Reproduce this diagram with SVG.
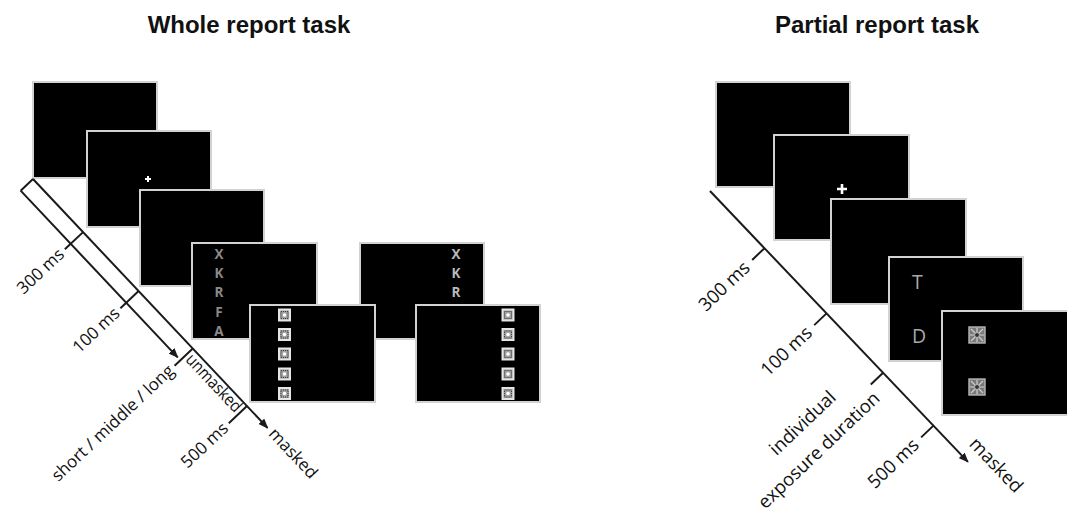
<svg xmlns="http://www.w3.org/2000/svg" width="1067" height="514" viewBox="0 0 1067 514">
  <style>
    .title { font-family: "Liberation Sans", Arial, sans-serif; font-weight: bold; font-size: 24px; fill: #111; }
    .scr { fill: #000; stroke: #d2d2d2; stroke-width: 2; }
    .tl { stroke: #1a1a1a; stroke-width: 2; fill: none; }
    .lbl { font-family: "Open Sans", "DejaVu Sans", sans-serif; font-size: 17px; fill: #111; }
    .lbl2 { font-family: "Open Sans", "DejaVu Sans", sans-serif; font-size: 18.5px; fill: #111; }
    .let { font-family: "Open Sans", "Liberation Sans", sans-serif; font-weight: bold; font-size: 13.5px; text-anchor: middle; }
    .cue { font-family: "Open Sans", "Liberation Sans", sans-serif; font-size: 19.5px; fill: #a8a8a8; }
    .fix { stroke: #fff; fill: none; }
  </style>
  <defs>
    <marker id="arr" viewBox="0 0 10 8" refX="9" refY="4" markerWidth="10" markerHeight="8" markerUnits="userSpaceOnUse" orient="auto">
      <path d="M0,0 L10,4 L0,8 z" fill="#1a1a1a"/>
    </marker>
    <!-- small dotted pattern mask -->
    <g id="maskA">
      <rect x="-6.5" y="-6.5" width="13" height="13" fill="#e6e6e6"/>
      <rect x="-4.5" y="-4.5" width="9" height="9" fill="#a0a0a0"/>
      <rect x="-3.5" y="-3.5" width="7" height="7" fill="none" stroke="#3c3c3c" stroke-width="1" stroke-dasharray="1 1"/>
      <circle r="1.8" fill="#fff"/>
    </g>
    <!-- radial pattern mask -->
    <g id="maskB">
      <rect x="-8" y="-8" width="16" height="16" fill="#7a7a7a" stroke="#b8b8b8" stroke-width="1.4"/>
      <path d="M-6,-6 L6,6 M6,-6 L-6,6 M0,-7 L0,7 M-7,0 L7,0" stroke="#d0d0d0" stroke-width="1.2"/>
      <circle r="2" fill="#333"/>
    </g>
  </defs>

  <rect width="1067" height="514" fill="#fff"/>

  <text class="title" x="249" y="33" text-anchor="middle">Whole report task</text>
  <text class="title" x="877" y="33" text-anchor="middle">Partial report task</text>

  <!-- whole report sequence -->
  <g id="w-blank"><rect class="scr" x="33" y="82" width="124" height="96"/></g>
  <g id="w-fixation">
    <rect class="scr" x="87" y="131" width="124" height="96"/>
    <path class="fix" stroke-width="2" d="M145,179 h6 M148,176 v6"/>
  </g>
  <g id="w-blank2"><rect class="scr" x="140" y="190" width="124" height="96"/></g>
  <g id="w-letters-left">
    <rect class="scr" x="192" y="243" width="125" height="96"/>
    <g class="let" fill="#8a8a8a">
      <text x="219" y="258.5">X</text>
      <text x="219" y="277.5">K</text>
      <text x="219" y="297">R</text>
      <text x="219" y="316.5">F</text>
      <text x="219" y="336">A</text>
    </g>
  </g>
  <g id="w-letters-right">
    <rect class="scr" x="360" y="243" width="124" height="96"/>
    <g class="let" fill="#b8b8b8">
      <text x="456" y="258.5">X</text>
      <text x="456" y="277.5">K</text>
      <text x="456" y="297">R</text>
    </g>
  </g>
  <g id="w-mask-left">
    <rect class="scr" x="250" y="305" width="125" height="97"/>
    <use href="#maskA" x="284.5" y="315"/>
    <use href="#maskA" x="284.5" y="334.5"/>
    <use href="#maskA" x="284.5" y="354"/>
    <use href="#maskA" x="284.5" y="374"/>
    <use href="#maskA" x="284.5" y="393.5"/>
  </g>
  <g id="w-mask-right">
    <rect class="scr" x="416" y="305" width="124" height="97"/>
    <use href="#maskA" x="508" y="315"/>
    <use href="#maskA" x="508" y="334.5"/>
    <use href="#maskA" x="508" y="354"/>
    <use href="#maskA" x="508" y="374"/>
    <use href="#maskA" x="508" y="393.5"/>
  </g>

  <!-- partial report sequence -->
  <g id="p-blank"><rect class="scr" x="716" y="82" width="134" height="105"/></g>
  <g id="p-fixation">
    <rect class="scr" x="774" y="135" width="135" height="105"/>
    <path class="fix" stroke-width="2.6" d="M837,189 h10 M842,184 v10"/>
  </g>
  <g id="p-blank2"><rect class="scr" x="831" y="199" width="135" height="105"/></g>
  <g id="p-cues">
    <rect class="scr" x="889" y="257" width="134" height="104"/>
    <text class="cue" x="912" y="289">T</text>
    <text class="cue" x="912" y="343">D</text>
  </g>
  <g id="p-mask">
    <rect class="scr" x="942" y="311" width="134" height="104"/>
    <use href="#maskB" x="977" y="335"/>
    <use href="#maskB" x="977" y="387"/>
  </g>

  <g id="connectors">
    <!-- whole report time axis: double band with unmasked branch -->
    <g id="w-axis" transform="translate(33,179) rotate(46.7)">
      <path class="tl" d="M0,0 L342,0" marker-end="url(#arr)"/>
      <path class="tl" d="M0,17 L229,17" marker-end="url(#arr)"/>
      <path class="tl" d="M0,0 L0,17"/>
      <path class="tl" d="M73,0 v25 M154,0 v25 M233,0 v25 M312,0 v25"/>
      <text class="lbl" transform="translate(78,29) rotate(-90)" text-anchor="end">300 ms</text>
      <text class="lbl" transform="translate(159,29) rotate(-90)" text-anchor="end">100 ms</text>
      <text class="lbl" transform="translate(238,29) rotate(-90)" text-anchor="end">short / middle / long</text>
      <text class="lbl" transform="translate(317,29) rotate(-90)" text-anchor="end">500 ms</text>
      <text class="lbl" x="236" y="14" textLength="73" lengthAdjust="spacingAndGlyphs">unmasked</text>
      <text class="lbl" x="347" y="4.5">masked</text>
    </g>
    <!-- partial report time axis -->
    <g id="p-axis" transform="translate(710,191) rotate(46.4)">
      <path class="tl" d="M0,0 L374,0" marker-end="url(#arr)"/>
      <path class="tl" d="M79,0 v17 M169,0 v17 M251,0 v17 M324,0 v17"/>
      <text class="lbl2" transform="translate(85,24) rotate(-90)" text-anchor="end">300 ms</text>
      <text class="lbl2" transform="translate(175,24) rotate(-90)" text-anchor="end">100 ms</text>
      <text class="lbl2" transform="translate(238,93) rotate(-90)" text-anchor="middle">individual</text>
      <text class="lbl2" transform="translate(269,100) rotate(-90)" text-anchor="middle">exposure duration</text>
      <text class="lbl2" transform="translate(330,24) rotate(-90)" text-anchor="end">500 ms</text>
      <text class="lbl2" x="362" y="-12">masked</text>
    </g>
  </g>
</svg>
